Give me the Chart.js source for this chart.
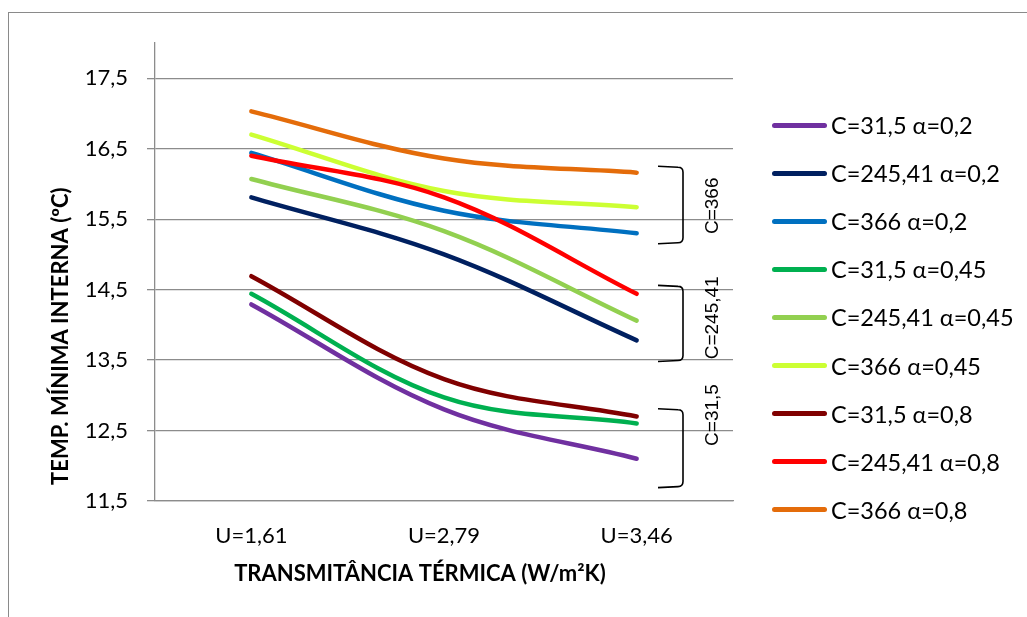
<!DOCTYPE html>
<html>
<head>
<meta charset="utf-8">
<script src="https://cdn.jsdelivr.net/npm/chart.js@4.4.1/dist/chart.umd.min.js"></script>
<style>
  body { margin: 0; background: #fff; }
  #wrap { position: relative; width: 1027px; height: 617px; overflow: hidden; }
  #frame { position: absolute; left: 8px; top: 12px; width: 1060px; height: 660px; border: 1.5px solid #8a8a8a; }
  #chart { position: absolute; left: 0; top: 0; }
  #legend { position: absolute; left: 772px; top: 101px; font-family: Lato, sans-serif; font-size: 23.5px; color: #000; }
  #legend .item { height: 48.1px; display: flex; align-items: center; white-space: nowrap; }
  #legend .swatch { width: 55px; height: 5px; border-radius: 3px; margin-right: 4px; }
</style>
</head>
<body>
<div id="wrap">
  <div id="frame"></div>
  <canvas id="chart" width="1027" height="617"></canvas>
  <div id="legend"></div>
</div>
<script>
// categories and tick values
const categories = ["U=1,61", "U=2,79", "U=3,46"];
const yTicks = [11.5, 12.5, 13.5, 14.5, 15.5, 16.5, 17.5];

// series
const c315a02 = [14.29, 12.80, 12.10];
const c245a02 = [15.81, 15.00, 13.78];
const c366a02 = [16.44, 15.62, 15.30];
const c315a045 = [14.44, 12.97, 12.60];
const c245a045 = [16.07, 15.33, 14.06];
const c366a045 = [16.70, 15.90, 15.67];
const c315a08 = [14.69, 13.23, 12.70];
const c245a08 = [16.40, 15.81, 14.44];
const c366a08 = [17.03, 16.36, 16.16];

const seriesNames = [
  "C=31,5 α=0,2", "C=245,41 α=0,2", "C=366 α=0,2",
  "C=31,5 α=0,45", "C=245,41 α=0,45", "C=366 α=0,45",
  "C=31,5 α=0,8", "C=245,41 α=0,8", "C=366 α=0,8"
];
const seriesData = [c315a02, c245a02, c366a02, c315a045, c245a045, c366a045, c315a08, c245a08, c366a08];
const seriesColors = ["#7030A0", "#002060", "#0070C0", "#00B050", "#92D050", "#CCFF33", "#800000", "#FF0000", "#E46C0A"];

// bracket annotations on the right (values on the y scale)
const groupLabels = ["C=366", "C=245,41", "C=31,5"];
const groupTop = [16.25, 14.56, 12.81];
const groupBottom = [15.15, 13.48, 11.69];
const groupMid = [15.69, 14.10, 12.72];

const bracketPlugin = {
  id: "brackets",
  afterDatasetsDraw(chart) {
    const { ctx, chartArea, scales } = chart;
    const y = scales.y;
    const xl = chartArea.right - 75;
    const xv = chartArea.right - 50;
    const xt = chartArea.right - 20;
    ctx.save();
    ctx.strokeStyle = "#000";
    ctx.lineWidth = 1.6;
    ctx.fillStyle = "#000";
    ctx.font = '19px "Liberation Sans", Arial, sans-serif';
    ctx.textAlign = "center";
    ctx.textBaseline = "middle";
    groupLabels.forEach((label, i) => {
      const yt = y.getPixelForValue(groupTop[i]);
      const yb = y.getPixelForValue(groupBottom[i]);
      ctx.beginPath();
      ctx.moveTo(xl, yt);
      ctx.lineTo(xv - 5, yt + 1);
      ctx.quadraticCurveTo(xv, yt + 1, xv, yt + 6);
      ctx.lineTo(xv, yb - 6);
      ctx.quadraticCurveTo(xv, yb - 1, xv - 5, yb - 1);
      ctx.lineTo(xl, yb);
      ctx.stroke();
      ctx.save();
      ctx.translate(xt, y.getPixelForValue(groupMid[i]));
      ctx.rotate(-Math.PI / 2);
      ctx.fillText(label, 0, 0);
      ctx.restore();
    });
    ctx.restore();
  }
};

const n = seriesNames.length;
const datasets = seriesNames.map((name, i) => ({
  label: name,
  data: seriesData[i],
  borderColor: seriesColors[i],
  backgroundColor: seriesColors[i],
  borderWidth: 4.5,
  borderCapStyle: "round",
  pointRadius: 0,
  tension: 0.35,
  fill: false,
  order: n - i
}));

new Chart(document.getElementById("chart"), {
  type: "line",
  data: { labels: categories, datasets },
  options: {
    responsive: false,
    animation: false,
    layout: { padding: { left: 0, right: 294, top: 43, bottom: 0 } },
    plugins: { legend: { display: false }, tooltip: { enabled: false } },
    scales: {
      x: {
        offset: true,
        afterFit: (s) => { s.height = 116; },
        grid: { display: false, drawTicks: false },
        border: { color: "#8c8c8c", width: 1.3 },
        ticks: { padding: 22, color: "#000", font: { family: "Lato", size: 22 } },
        title: {
          display: true,
          text: "TRANSMITÂNCIA TÉRMICA (W/m²K)         ",
          color: "#000",
          font: { family: "Lato", size: 22, weight: "bold" },
          padding: { top: 0, bottom: 30 }
        }
      },
      y: {
        min: 11.5,
        max: 18,
        afterBuildTicks: (s) => { s.ticks = yTicks.map((v) => ({ value: v })); },
        afterFit: (s) => { s.width = 155; },
        grid: { color: "#8c8c8c", lineWidth: 1.3, tickLength: 8 },
        border: { color: "#8c8c8c", width: 1.3 },
        ticks: {
          padding: 19,
          color: "#000",
          font: { family: "Lato", size: 22 },
          callback: (v) => Number(v).toFixed(1).replace(".", ",")
        },
        title: {
          display: true,
          text: "TEMP. MÍNIMA INTERNA (ºC)                        ",
          color: "#000",
          font: { family: "Lato", size: 22, weight: "bold" },
          padding: { top: 48, bottom: 0 }
        }
      }
    }
  },
  plugins: [bracketPlugin]
});

// legend built from the same arrays
const legend = document.getElementById("legend");
seriesNames.forEach((name, i) => {
  const row = document.createElement("div");
  row.className = "item";
  const sw = document.createElement("span");
  sw.className = "swatch";
  sw.style.background = seriesColors[i];
  const txt = document.createElement("span");
  txt.textContent = name;
  row.appendChild(sw);
  row.appendChild(txt);
  legend.appendChild(row);
});
</script>
</body>
</html>
